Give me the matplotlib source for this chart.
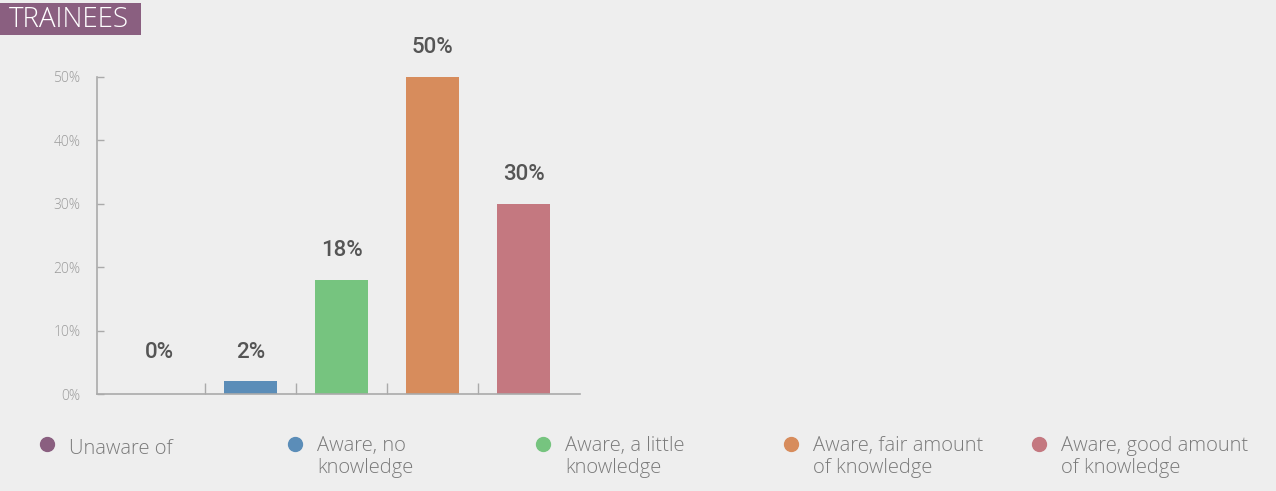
import matplotlib
matplotlib.use("Agg")
import matplotlib.pyplot as plt
from matplotlib.patches import Rectangle
from matplotlib.lines import Line2D

categories = ["Unaware of", "Aware, no\nknowledge", "Aware, a little\nknowledge",
              "Aware, fair amount\nof knowledge", "Aware, good amount\nof knowledge"]
values = [0, 2, 18, 50, 30]
colors = ["#8a5f80", "#5b8db8", "#76c47f", "#d78c5c", "#c47880"]
yticks = [0, 10, 20, 30, 40, 50]
title = "TRAINEES"

W, H = 1276, 491
fig = plt.figure(figsize=(W / 100, H / 100), dpi=100)
fig.patch.set_facecolor("#eeeeee")

THIN = ["Open Sans", "DejaVu Sans"]

def fx(px):
    return px / W

def fy(py):
    return 1 - py / H

ax = fig.add_axes([fx(97), fy(394), fx(580) - fx(97), fy(77) - fy(394)])
ax.set_facecolor("none")
x = list(range(len(values)))
ax.bar(x, values, width=0.58, color=colors, zorder=2)
ax.set_xlim(-0.687, 4.62)
ax.set_ylim(0, 50)
ax.set_yticks(yticks)
ax.set_yticklabels([f"{v}%" for v in yticks], fontsize=10, color="#9a9a9a",
                   family=THIN, fontweight="light")
ax.set_xticks([i + 0.5 for i in range(len(values) - 1)])
ax.set_xticklabels([])
ax.tick_params(axis="both", direction="in", color="#aaaaaa", width=1)
ax.tick_params(axis="y", length=5, pad=12)
ax.tick_params(axis="x", length=8)
for s in ["top", "right"]:
    ax.spines[s].set_visible(False)
for s in ["left", "bottom"]:
    ax.spines[s].set_color("#aaaaaa")
    ax.spines[s].set_linewidth(1.2)

for i, v in enumerate(values):
    ax.annotate(f"{v}%", xy=(i, max(v, 2)), xytext=(0, 21), textcoords="offset points",
                ha="center", va="center", fontsize=16, color="#555555",
                family=["Roboto", "DejaVu Sans"], fontweight="medium", clip_on=False)

# title box
fig.add_artist(Rectangle((fx(0), fy(35)), fx(141), fy(3) - fy(35),
                         transform=fig.transFigure, facecolor="#8a5f80", edgecolor="none"))
fig.text(fx(9), fy(20), title, color="white", fontsize=20, va="center", ha="left",
         family=THIN, fontweight="light")

# legend
for i, (lab, col) in enumerate(zip(categories, colors)):
    mx = 47 + 248 * i
    fig.add_artist(Line2D([fx(mx)], [fy(444)], marker="o", markersize=10,
                          color=col, linestyle="none", transform=fig.transFigure))
    if "\n" in lab:
        fig.text(fx(mx + 22), fy(436), lab, color="#7a7a7a", fontsize=14.5,
                 va="top", ha="left", family=THIN, fontweight="light",
                 linespacing=1.13)
    else:
        fig.text(fx(mx + 22), fy(449), lab, color="#7a7a7a", fontsize=14.5,
                 va="center", ha="left", family=THIN, fontweight="light")

fig.savefig("out.png", dpi=100, facecolor=fig.get_facecolor())
